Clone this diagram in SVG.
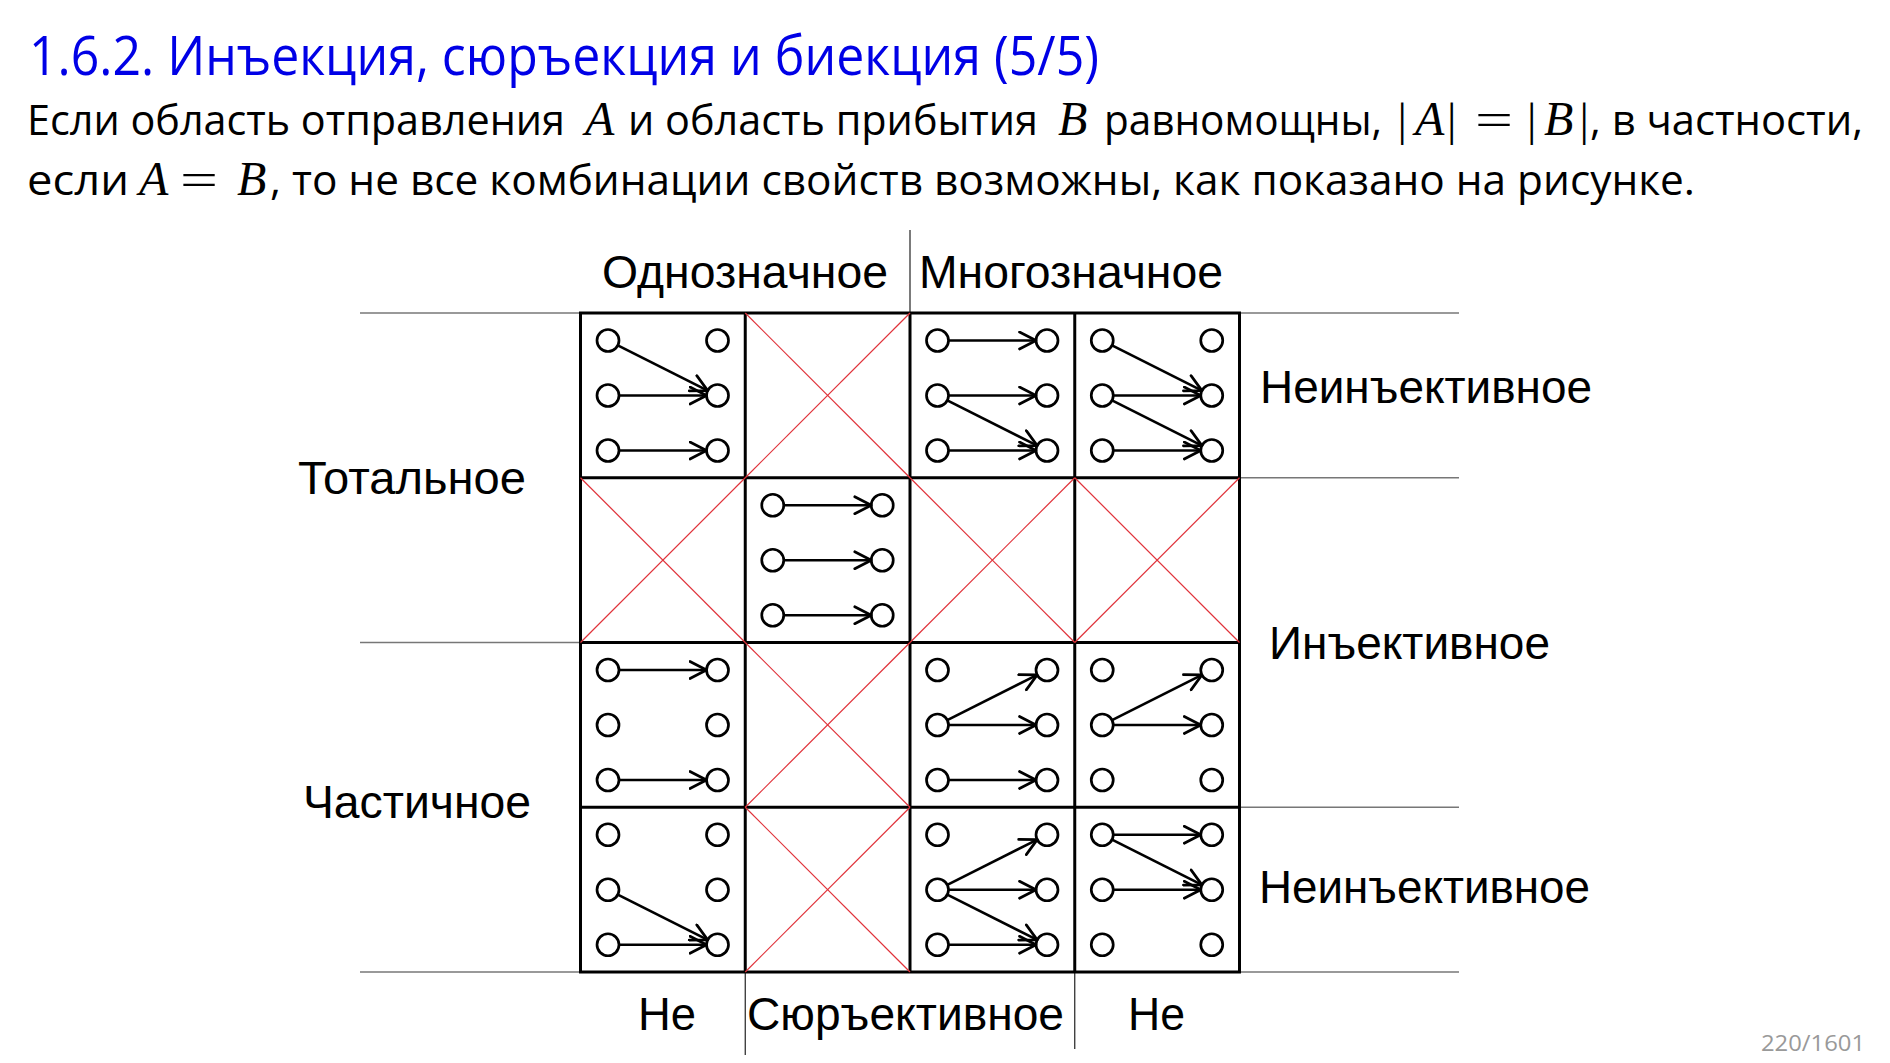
<svg xmlns="http://www.w3.org/2000/svg" width="1890" height="1063" viewBox="0 0 1890 1063">
<style>
.title{font-family:"Open Sans","Noto Sans",sans-serif;font-size:54px;fill:#0000e6}
.body{font-family:"Open Sans","Noto Sans",sans-serif;font-size:42px;fill:#000}
.mi{font-family:"Liberation Serif",serif;font-size:48px;font-style:italic;fill:#000}
.mr{font-family:"Liberation Serif",serif;font-size:47px;fill:#000}
.lbl{font-family:"Liberation Sans",Arial,sans-serif;font-size:46px;fill:#000}
.pg{font-family:"Open Sans","Noto Sans",sans-serif;font-size:22px;fill:#999}
.guide{stroke:#777;stroke-width:1.6;fill:none}
.vline{stroke:#222;stroke-width:1.2;fill:none}
.grid{stroke:#000;stroke-width:3;fill:none}
.cross{stroke:#e0323a;stroke-width:1.2;fill:none}
.pt{fill:#fff;stroke:#000;stroke-width:2.7}
.arr{stroke:#000;stroke-width:2.7;fill:none;marker-end:url(#ah)}
</style>
<defs>
<marker id="ah" markerUnits="userSpaceOnUse" markerWidth="20" markerHeight="20" viewBox="0 0 20 20" refX="18" refY="10" orient="auto">
<path d="M1.5,1.5 L18,10 L1.5,18.5" fill="none" stroke="#000" stroke-width="2.7" stroke-linejoin="round" stroke-linecap="round"/>
</marker>
<g id="pts">
<circle class="pt" cx="27.5" cy="27.5" r="11"/>
<circle class="pt" cx="27.5" cy="82.5" r="11"/>
<circle class="pt" cx="27.5" cy="137.5" r="11"/>
<circle class="pt" cx="137" cy="27.5" r="11"/>
<circle class="pt" cx="137" cy="82.5" r="11"/>
<circle class="pt" cx="137" cy="137.5" r="11"/>
</g>
</defs>
<rect width="1890" height="1063" fill="#fff"/>

<g id="header">
<text class="title" x="29" y="74.5" textLength="1070" lengthAdjust="spacingAndGlyphs">1.6.2. Инъекция, сюръекция и биекция (5/5)</text>
<text class="body" x="27" y="135" textLength="538" lengthAdjust="spacingAndGlyphs">Если область отправления</text>
<text class="mi" x="585" y="135">A</text>
<text class="body" x="628" y="135" textLength="410" lengthAdjust="spacingAndGlyphs">и область прибытия</text>
<text class="mi" x="1058" y="135">B</text>
<text class="body" x="1104" y="135" textLength="278" lengthAdjust="spacingAndGlyphs">равномощны,</text>
<text class="mr" x="1397.5" y="135">|</text>
<text class="mi" x="1415" y="135">A</text>
<text class="mr" x="1447" y="135">|</text>
<text class="mr" x="1475" y="135" textLength="38" lengthAdjust="spacingAndGlyphs">=</text>
<text class="mr" x="1527" y="135">|</text>
<text class="mi" x="1544" y="135">B</text>
<text class="mr" x="1579.5" y="135">|</text>
<text class="body" x="1590" y="135" textLength="273" lengthAdjust="spacingAndGlyphs">, в частности,</text>
<text class="body" x="27" y="195" textLength="102" lengthAdjust="spacingAndGlyphs">если</text>
<text class="mi" x="139" y="195">A</text>
<text class="mr" x="180" y="195" textLength="38" lengthAdjust="spacingAndGlyphs">=</text>
<text class="mi" x="237" y="195">B</text>
<text class="body" x="270" y="195" textLength="1425" lengthAdjust="spacingAndGlyphs">, то не все комбинации свойств возможны, как показано на рисунке.</text>
</g>

<g id="guides">
<line class="guide" x1="360" y1="313" x2="1459" y2="313"/>
<line class="guide" x1="1239.5" y1="477.75" x2="1459" y2="477.75"/>
<line class="guide" x1="360" y1="642.5" x2="580.5" y2="642.5"/>
<line class="guide" x1="1239.5" y1="807.25" x2="1459" y2="807.25"/>
<line class="guide" x1="360" y1="972" x2="1459" y2="972"/>
<line class="vline" x1="910" y1="230" x2="910" y2="313"/>
<line class="vline" x1="745.25" y1="972" x2="745.25" y2="1055"/>
<line class="vline" x1="1074.75" y1="972" x2="1074.75" y2="1049"/>
</g>

<g id="labels">
<text class="lbl" x="602" y="288" textLength="286" lengthAdjust="spacingAndGlyphs">Однозначное</text>
<text class="lbl" x="919" y="288" textLength="304" lengthAdjust="spacingAndGlyphs">Многозначное</text>
<text class="lbl" x="1260" y="403" textLength="332" lengthAdjust="spacingAndGlyphs">Неинъективное</text>
<text class="lbl" x="298" y="494" textLength="228" lengthAdjust="spacingAndGlyphs">Тотальное</text>
<text class="lbl" x="1269" y="659" textLength="281" lengthAdjust="spacingAndGlyphs">Инъективное</text>
<text class="lbl" x="303" y="818" textLength="228" lengthAdjust="spacingAndGlyphs">Частичное</text>
<text class="lbl" x="1259" y="903" textLength="331" lengthAdjust="spacingAndGlyphs">Неинъективное</text>
<text class="lbl" x="638" y="1030" textLength="58" lengthAdjust="spacingAndGlyphs">Не</text>
<text class="lbl" x="747" y="1030" textLength="317" lengthAdjust="spacingAndGlyphs">Сюръективное</text>
<text class="lbl" x="1128" y="1030" textLength="57" lengthAdjust="spacingAndGlyphs">Не</text>
</g>

<g id="grid">
<rect class="grid" x="580.5" y="313" width="659" height="659"/>
<line class="grid" x1="745.25" y1="313" x2="745.25" y2="972"/>
<line class="grid" x1="910" y1="313" x2="910" y2="972"/>
<line class="grid" x1="1074.75" y1="313" x2="1074.75" y2="972"/>
<line class="grid" x1="580.5" y1="477.75" x2="1239.5" y2="477.75"/>
<line class="grid" x1="580.5" y1="642.5" x2="1239.5" y2="642.5"/>
<line class="grid" x1="580.5" y1="807.25" x2="1239.5" y2="807.25"/>
</g>

<g id="impossible">
<g id="x-r0c1"><line class="cross" x1="745.25" y1="313" x2="910" y2="477.75"/><line class="cross" x1="910" y1="313" x2="745.25" y2="477.75"/></g>
<g id="x-r1c0"><line class="cross" x1="580.5" y1="477.75" x2="745.25" y2="642.5"/><line class="cross" x1="745.25" y1="477.75" x2="580.5" y2="642.5"/></g>
<g id="x-r1c2"><line class="cross" x1="910" y1="477.75" x2="1074.75" y2="642.5"/><line class="cross" x1="1074.75" y1="477.75" x2="910" y2="642.5"/></g>
<g id="x-r1c3"><line class="cross" x1="1074.75" y1="477.75" x2="1239.5" y2="642.5"/><line class="cross" x1="1239.5" y1="477.75" x2="1074.75" y2="642.5"/></g>
<g id="x-r2c1"><line class="cross" x1="745.25" y1="642.5" x2="910" y2="807.25"/><line class="cross" x1="910" y1="642.5" x2="745.25" y2="807.25"/></g>
<g id="x-r3c1"><line class="cross" x1="745.25" y1="807.25" x2="910" y2="972"/><line class="cross" x1="910" y1="807.25" x2="745.25" y2="972"/></g>
</g>

<g id="cell-r0c0" transform="translate(580.5,313)"><use href="#pts"/></g>
<g id="cell-r0c2" transform="translate(910,313)"><use href="#pts"/></g>
<g id="cell-r0c3" transform="translate(1074.75,313)"><use href="#pts"/></g>
<g id="cell-r1c1" transform="translate(745.25,477.75)"><use href="#pts"/></g>
<g id="cell-r2c0" transform="translate(580.5,642.5)"><use href="#pts"/></g>
<g id="cell-r2c2" transform="translate(910,642.5)"><use href="#pts"/></g>
<g id="cell-r2c3" transform="translate(1074.75,642.5)"><use href="#pts"/></g>
<g id="cell-r3c0" transform="translate(580.5,807.25)"><use href="#pts"/></g>
<g id="cell-r3c2" transform="translate(910,807.25)"><use href="#pts"/></g>
<g id="cell-r3c3" transform="translate(1074.75,807.25)"><use href="#pts"/></g>

<g id="connectors">
<g transform="translate(580.5,313)">
<line class="arr" x1="37.3" y1="32.4" x2="127.2" y2="77.6"/>
<line class="arr" x1="38.5" y1="82.5" x2="126" y2="82.5"/>
<line class="arr" x1="38.5" y1="137.5" x2="126" y2="137.5"/>
</g>
<g transform="translate(910,313)">
<line class="arr" x1="38.5" y1="27.5" x2="126" y2="27.5"/>
<line class="arr" x1="38.5" y1="82.5" x2="126" y2="82.5"/>
<line class="arr" x1="37.3" y1="87.4" x2="127.2" y2="132.6"/>
<line class="arr" x1="38.5" y1="137.5" x2="126" y2="137.5"/>
</g>
<g transform="translate(1074.75,313)">
<line class="arr" x1="37.3" y1="32.4" x2="127.2" y2="77.6"/>
<line class="arr" x1="38.5" y1="82.5" x2="126" y2="82.5"/>
<line class="arr" x1="37.3" y1="87.4" x2="127.2" y2="132.6"/>
<line class="arr" x1="38.5" y1="137.5" x2="126" y2="137.5"/>
</g>
<g transform="translate(745.25,477.75)">
<line class="arr" x1="38.5" y1="27.5" x2="126" y2="27.5"/>
<line class="arr" x1="38.5" y1="82.5" x2="126" y2="82.5"/>
<line class="arr" x1="38.5" y1="137.5" x2="126" y2="137.5"/>
</g>
<g transform="translate(580.5,642.5)">
<line class="arr" x1="38.5" y1="27.5" x2="126" y2="27.5"/>
<line class="arr" x1="38.5" y1="137.5" x2="126" y2="137.5"/>
</g>
<g transform="translate(910,642.5)">
<line class="arr" x1="37.3" y1="77.6" x2="127.2" y2="32.4"/>
<line class="arr" x1="38.5" y1="82.5" x2="126" y2="82.5"/>
<line class="arr" x1="38.5" y1="137.5" x2="126" y2="137.5"/>
</g>
<g transform="translate(1074.75,642.5)">
<line class="arr" x1="37.3" y1="77.6" x2="127.2" y2="32.4"/>
<line class="arr" x1="38.5" y1="82.5" x2="126" y2="82.5"/>
</g>
<g transform="translate(580.5,807.25)">
<line class="arr" x1="37.3" y1="87.4" x2="127.2" y2="132.6"/>
<line class="arr" x1="38.5" y1="137.5" x2="126" y2="137.5"/>
</g>
<g transform="translate(910,807.25)">
<line class="arr" x1="37.3" y1="77.6" x2="127.2" y2="32.4"/>
<line class="arr" x1="38.5" y1="82.5" x2="126" y2="82.5"/>
<line class="arr" x1="37.3" y1="87.4" x2="127.2" y2="132.6"/>
<line class="arr" x1="38.5" y1="137.5" x2="126" y2="137.5"/>
</g>
<g transform="translate(1074.75,807.25)">
<line class="arr" x1="38.5" y1="27.5" x2="126" y2="27.5"/>
<line class="arr" x1="37.3" y1="32.4" x2="127.2" y2="77.6"/>
<line class="arr" x1="38.5" y1="82.5" x2="126" y2="82.5"/>
</g>
</g>

<text class="pg" x="1761" y="1051" textLength="104" lengthAdjust="spacingAndGlyphs">220/1601</text>
</svg>
